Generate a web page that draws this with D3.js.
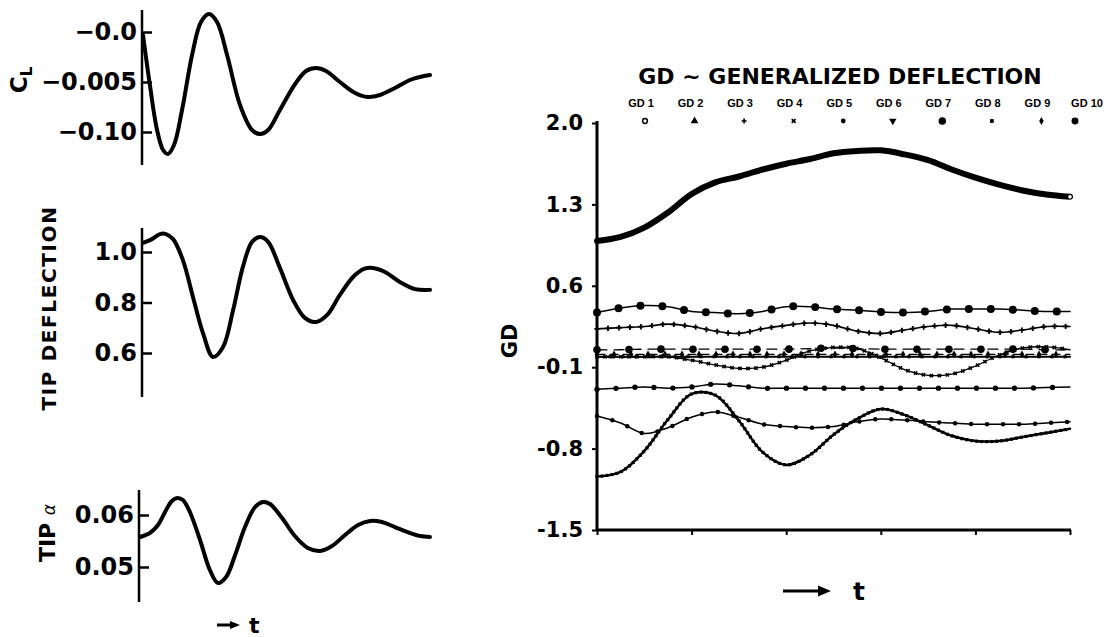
<!DOCTYPE html>
<html><head><meta charset="utf-8">
<script src="https://cdn.jsdelivr.net/npm/d3@7"></script>
<style>body{margin:0;background:#fff}svg{display:block}</style>
</head><body>
<svg id="c" width="1109" height="637"></svg>
<script>
// ---------- LEFT PANELS DATA (t in arbitrary units 0..100) ----------
const clT = [0,2.4,4.9,7.0,8.7,10.8,13.6,17.1,20.2,23.0,25.8,29.3,33.8,38.0,40.8,43.6,47.7,53.0,56.8,60.3,63.8,68.6,73.9,78.4,82.6,87.8,93.0,96.5,100];
const clV = [-0.003,-0.053,-0.098,-0.118,-0.122,-0.113,-0.078,-0.023,0.010,0.018,0.010,-0.023,-0.073,-0.098,-0.102,-0.098,-0.078,-0.052,-0.039,-0.036,-0.039,-0.050,-0.061,-0.065,-0.063,-0.056,-0.048,-0.045,-0.043];
const clTicks = [0, -0.05, -0.10];
const clTickLabels = ["\u22120.0", "\u22120.005", "\u22120.10"];

const tdT = [0,3.1,5.9,8.0,10.5,13.9,17.4,20.9,24.4,27.9,31.4,34.8,38.0,40.8,43.6,47.7,52.3,56.4,60.3,64.1,68.6,73.2,77.0,80.1,84.3,89.5,94.8,100];
const tdV = [1.036,1.051,1.071,1.071,1.051,0.968,0.822,0.679,0.584,0.624,0.770,0.941,1.040,1.059,1.040,0.937,0.810,0.739,0.723,0.750,0.830,0.901,0.933,0.937,0.921,0.881,0.853,0.850];
const tdTicks = [1.0, 0.8, 0.6];
const tdTickLabels = ["1.0", "0.8", "0.6"];

const taT = [0,3.4,6.2,9.0,11.0,12.8,14.8,17.2,20.7,24.1,26.9,29.7,32.8,36.2,39.7,42.4,44.8,49.0,53.4,57.9,62.1,66.2,70.7,75.2,79.3,83.4,87.9,93.1,96.6,100];
const taV = [0.05577,0.05654,0.05808,0.06096,0.06269,0.06327,0.06288,0.06058,0.05519,0.04942,0.04692,0.04808,0.05231,0.05769,0.06154,0.0625,0.06212,0.05942,0.05596,0.05365,0.05308,0.05404,0.05615,0.05808,0.05885,0.05865,0.05769,0.05654,0.05596,0.05577];
const taTicks = [0.06, 0.05];
const taTickLabels = ["0.06", "0.05"];

// ---------- RIGHT PANEL DATA ----------
const gdT = [0,0.25,0.5,0.75,1,1.25,1.5,1.75,2,2.25,2.5,2.75,3,3.25,3.5,3.75,4,4.25,4.5,4.75,5];
const gd1 = [0.985,1.02,1.10,1.23,1.39,1.49,1.54,1.60,1.65,1.69,1.74,1.76,1.765,1.73,1.68,1.60,1.53,1.47,1.42,1.385,1.365];
const gd2 = [-1.04,-1.00,-0.82,-0.55,-0.33,-0.34,-0.56,-0.83,-0.94,-0.855,-0.68,-0.545,-0.46,-0.51,-0.60,-0.69,-0.735,-0.735,-0.70,-0.665,-0.63];
const gd3 = [0.23,0.24,0.25,0.27,0.25,0.21,0.19,0.23,0.26,0.28,0.26,0.21,0.19,0.22,0.25,0.26,0.23,0.20,0.22,0.25,0.25];
const gd4 = [-0.01,-0.01,-0.01,-0.01,-0.04,-0.08,-0.11,-0.10,-0.04,0.04,0.07,0.06,-0.02,-0.12,-0.17,-0.16,-0.09,0.005,0.065,0.075,0.05];
const gd5 = [-0.29,-0.28,-0.27,-0.28,-0.27,-0.245,-0.26,-0.28,-0.28,-0.28,-0.28,-0.28,-0.28,-0.28,-0.28,-0.28,-0.28,-0.28,-0.28,-0.275,-0.27];
const gd6 = [-0.52,-0.58,-0.67,-0.62,-0.53,-0.485,-0.53,-0.59,-0.61,-0.62,-0.61,-0.57,-0.545,-0.555,-0.57,-0.58,-0.59,-0.59,-0.59,-0.58,-0.57];
const gd7 = [0.37,0.41,0.43,0.42,0.38,0.37,0.36,0.38,0.42,0.42,0.40,0.39,0.375,0.37,0.38,0.40,0.40,0.40,0.39,0.38,0.38];
const gd8 = [-0.01,-0.01,-0.01,-0.01,-0.01,-0.01,-0.01,-0.01,-0.01,-0.01,-0.01,-0.01,-0.01,-0.01,-0.01,-0.01,-0.01,-0.01,-0.01,-0.01,-0.01];
const gd9 = [0.01,0.01,0.01,0.01,0.01,0.01,0.01,0.01,0.01,0.01,0.01,0.01,0.01,0.01,0.01,0.01,0.01,0.01,0.01,0.01,0.01];
const gd10 = [0.05,0.05,0.055,0.055,0.055,0.055,0.055,0.055,0.055,0.06,0.065,0.06,0.055,0.055,0.055,0.055,0.055,0.055,0.055,0.05,0.05];
const gdTicks = [2.0, 1.3, 0.6, -0.1, -0.8, -1.5];
const gdTickLabels = ["2.0", "1.3", "0.6", "-0.1", "-0.8", "-1.5"];
const tTicks = [0, 1, 2, 3, 4, 5];
const legendNames = ["GD 1","GD 2","GD 3","GD 4","GD 5","GD 6","GD 7","GD 8","GD 9","GD 10"];
const titleText = "GD \u223C GENERALIZED DEFLECTION";

// ---------- DRAWING ----------
const svg = d3.select("#c");
const FONT = "'DejaVu Sans', sans-serif";
const zip = (a, b) => a.map((d, i) => [d, b[i]]);

function leftPanel(cfg) {
  const x = d3.scaleLinear([0, 100], [cfg.x0 + 1, 430]);
  const y = d3.scaleLinear(cfg.domain, cfg.range);
  const g = svg.append("g");
  const ax = g.append("g").attr("transform", `translate(${cfg.x0},0)`)
    .call(d3.axisLeft(y).tickValues(cfg.ticks).tickFormat((d, i) => cfg.labels[i])
      .tickSizeInner(-10).tickSizeOuter(0).tickPadding(5));
  ax.select(".domain").remove();
  ax.selectAll(".tick line").attr("stroke", "#000").attr("stroke-width", 2.5);
  ax.selectAll(".tick text").attr("font-family", FONT).attr("font-weight", "bold")
    .attr("font-size", 24).attr("fill", "#000");
  g.append("line").attr("x1", cfg.x0).attr("x2", cfg.x0).attr("y1", cfg.top).attr("y2", cfg.bottom)
    .attr("stroke", "#000").attr("stroke-width", 2.5);
  g.append("path").datum(zip(cfg.t, cfg.v))
    .attr("d", d3.line().x(d => x(d[0])).y(d => y(d[1])).curve(d3.curveCatmullRom.alpha(0.5)))
    .attr("fill", "none").attr("stroke", "#000").attr("stroke-width", 4)
    .attr("stroke-linejoin", "round").attr("stroke-linecap", "round");
}

leftPanel({x0: 142, top: 10, bottom: 165, domain: [0, -0.10], range: [32, 132],
  ticks: clTicks, labels: clTickLabels, t: clT, v: clV});
leftPanel({x0: 142, top: 228, bottom: 397, domain: [1.0, 0.6], range: [252, 353],
  ticks: tdTicks, labels: tdTickLabels, t: tdT, v: tdV});
leftPanel({x0: 139, top: 490, bottom: 602, domain: [0.06, 0.05], range: [515, 567],
  ticks: taTicks, labels: taTickLabels, t: taT, v: taV});

// left axis titles
const cl = svg.append("text").attr("transform", "translate(27,80) rotate(-90)")
  .attr("text-anchor", "middle").attr("font-family", FONT).attr("font-weight", "bold");
cl.append("tspan").attr("font-size", 23).text("C");
cl.append("tspan").attr("font-size", 15).attr("dy", 5).text("L");

svg.append("text").attr("transform", "translate(56,308) rotate(-90)")
  .attr("text-anchor", "middle").attr("font-family", FONT).attr("font-weight", "bold")
  .attr("font-size", 20).attr("letter-spacing", 1.6).text("TIP DEFLECTION");

const ta = svg.append("text").attr("transform", "translate(55,533) rotate(-90)")
  .attr("text-anchor", "middle").attr("font-family", FONT).attr("font-weight", "bold");
ta.append("tspan").attr("font-size", 22).text("TIP ");
ta.append("tspan").attr("font-size", 17).attr("font-style", "italic").attr("font-weight", "normal").text("\u03B1");

// "-> t"
function arrowT(x1, x2, y, tx, fs, head) {
  svg.append("line").attr("x1", x1).attr("x2", x2 - head).attr("y1", y).attr("y2", y)
    .attr("stroke", "#000").attr("stroke-width", 3);
  svg.append("path").attr("d", d3.line()([[x2 - head - 1, y - head * 0.45], [x2, y], [x2 - head - 1, y + head * 0.45]]) + "Z")
    .attr("fill", "#000");
  svg.append("text").attr("x", tx).attr("y", y + fs * 0.36).attr("font-family", FONT)
    .attr("font-weight", "bold").attr("font-size", fs).text("t");
}
arrowT(217, 240, 625, 249, 22, 9);

// ---------- RIGHT PANEL ----------
const x = d3.scaleLinear([0, 5], [597, 1070]);
const y = d3.scaleLinear([2.0, -1.5], [123, 530]);
const rg = svg.append("g");

const yAx = rg.append("g").attr("transform", "translate(597,0)")
  .call(d3.axisLeft(y).tickValues(gdTicks).tickFormat((d, i) => gdTickLabels[i])
    .tickSizeInner(5).tickSizeOuter(0).tickPadding(9));
yAx.select(".domain").remove();
yAx.selectAll(".tick line").attr("stroke", "#000").attr("stroke-width", 2);
yAx.selectAll(".tick text").attr("font-family", FONT).attr("font-weight", "bold")
  .attr("font-size", 21).attr("fill", "#000");
rg.append("line").attr("x1", 597).attr("x2", 597).attr("y1", y(2.0) - 2).attr("y2", y(-1.5) + 1)
  .attr("stroke", "#000").attr("stroke-width", 3);

const xAx = rg.append("g").attr("transform", `translate(0,${y(-1.5)})`)
  .call(d3.axisBottom(x).tickValues(tTicks).tickFormat("").tickSizeInner(5).tickSizeOuter(0));
xAx.select(".domain").remove();
xAx.selectAll(".tick line").attr("stroke", "#000").attr("stroke-width", 2);
rg.append("line").attr("x1", x(0)).attr("x2", x(5) + 1).attr("y1", y(-1.5)).attr("y2", y(-1.5))
  .attr("stroke", "#000").attr("stroke-width", 3);

svg.append("text").attr("transform", "translate(517,341) rotate(-90)")
  .attr("text-anchor", "middle").attr("font-family", FONT).attr("font-weight", "bold")
  .attr("font-size", 21).text("GD");

arrowT(783, 831, 591, 853, 25, 12);

// title
svg.append("text").attr("x", 840).attr("y", 84).attr("text-anchor", "middle")
  .attr("font-family", FONT).attr("font-weight", "bold").attr("font-size", 22).text(titleText);

// series styles
const series = [
  {v: gd1, w: 6, dash: null, sym: null},
  {v: gd2, w: 2.5, dash: null, sym: d3.symbolSquare, size: 10, rot: 0, sp: 5},
  {v: gd3, w: 1.6, dash: null, sym: d3.symbolCross, size: 16, rot: 0, sp: 11},
  {v: gd4, w: 1.3, dash: null, sym: d3.symbolCross, size: 12, rot: 45, sp: 8},
  {v: gd5, w: 1.5, dash: null, sym: d3.symbolCircle, size: 22, rot: 0, sp: 19},
  {v: gd6, w: 1.5, dash: null, sym: d3.symbolCircle, size: 16, rot: 0, sp: 16},
  {v: gd7, w: 1.5, dash: null, sym: d3.symbolCircle, size: 50, rot: 0, sp: 22},
  {v: gd8, w: 2, dash: null, sym: d3.symbolSquare, size: 10, rot: 0, sp: 13},
  {v: gd9, w: 1.2, dash: "8,5", sym: d3.symbolDiamond, size: 18, rot: 0, sp: 17},
  {v: gd10, w: 1.3, dash: "10,7", sym: d3.symbolCircle, size: 45, rot: 0, sp: 32}
];
const legendSyms = [
  {sym: d3.symbolCircle, size: 18, rot: 0, open: true},
  {sym: d3.symbolTriangle, size: 26, rot: 0},
  {sym: d3.symbolCross, size: 14, rot: 0},
  {sym: d3.symbolCross, size: 16, rot: 45},
  {sym: d3.symbolCircle, size: 18, rot: 0},
  {sym: d3.symbolTriangle, size: 24, rot: 180},
  {sym: d3.symbolCircle, size: 45, rot: 0},
  {sym: d3.symbolSquare, size: 14, rot: 0},
  {sym: d3.symbolDiamond, size: 18, rot: 0},
  {sym: d3.symbolCircle, size: 38, rot: 0}
];

const line = d3.line().x(d => x(d[0])).y(d => y(d[1])).curve(d3.curveCatmullRom.alpha(0.5));
series.forEach((s, i) => {
  const p = rg.append("path").datum(zip(gdT, s.v)).attr("d", line)
    .attr("fill", "none").attr("stroke", "#000").attr("stroke-width", s.w)
    .attr("stroke-linejoin", "round").attr("stroke-linecap", "round");
  if (s.dash) p.attr("stroke-dasharray", s.dash);
  if (s.sym) {
    const node = p.node(), L = node.getTotalLength();
    const pts = [];
    for (let d = 0; d <= L + 0.01; d += s.sp) pts.push(node.getPointAtLength(Math.min(d, L)));
    rg.append("g").selectAll("path").data(pts).join("path")
      .attr("d", d3.symbol().type(s.sym).size(s.size))
      .attr("transform", d => `translate(${d.x},${d.y}) rotate(${s.rot})`)
      .attr("fill", "#000");
  } else {
    const last = s.v.length - 1;
    rg.append("circle").attr("cx", x(gdT[last])).attr("cy", y(s.v[last])).attr("r", 1.8)
      .attr("fill", "#fff");
  }
});

// legend
const lx = d3.scalePoint(legendNames, [641, 1087]);
const lg = svg.append("g");
lg.selectAll("text").data(legendNames).join("text")
  .attr("x", d => lx(d)).attr("y", 107).attr("text-anchor", "middle")
  .attr("font-family", "'Liberation Sans', Arial, sans-serif").attr("font-weight", "bold")
  .attr("font-size", 11).text(d => d);
lg.selectAll("path").data(legendNames).join("path")
  .attr("d", (d, i) => d3.symbol().type(legendSyms[i].sym).size(legendSyms[i].size)())
  .attr("transform", (d, i) => `translate(${lx(d) + (i < 9 ? 4 : -12)},121) rotate(${legendSyms[i].rot})`)
  .attr("fill", (d, i) => legendSyms[i].open ? "#fff" : "#000")
  .attr("stroke", (d, i) => legendSyms[i].open ? "#000" : "none")
  .attr("stroke-width", 1.5);
</script>
</body></html>
